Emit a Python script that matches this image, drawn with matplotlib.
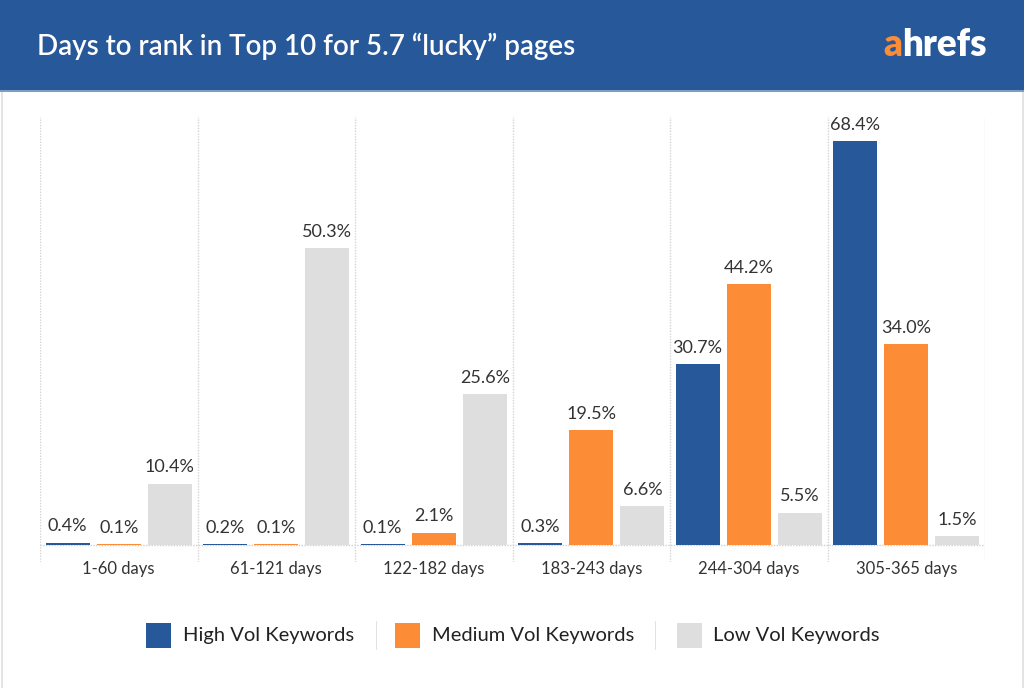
import numpy as np
import matplotlib.pyplot as plt
from matplotlib.patches import Rectangle

# data
day_ranges = ["1-60 days", "61-121 days", "122-182 days",
              "183-243 days", "244-304 days", "305-365 days"]
high_vol = [0.4, 0.2, 0.1, 0.3, 30.7, 68.4]
medium_vol = [0.1, 0.1, 2.1, 19.5, 44.2, 34.0]
low_vol = [10.4, 50.3, 25.6, 6.6, 5.5, 1.5]
series_names = ["High Vol Keywords", "Medium Vol Keywords", "Low Vol Keywords"]

BLUE = "#27589a"
ORANGE = "#fd8c36"
GREY = "#dedede"
TEXT = "#333333"
FONT = "Lato"

W, H = 1024, 688
fig = plt.figure(figsize=(W / 100, H / 100), dpi=100)
fig.patch.set_facecolor("white")

# header band
fig.patches.append(Rectangle((0, 1 - 90 / H), 1, 90 / H, transform=fig.transFigure,
                             facecolor=BLUE, edgecolor="none", zorder=0))
fig.patches.append(Rectangle((0, 1 - 92 / H), 1, 2 / H, transform=fig.transFigure,
                             facecolor="#7f9cc4", edgecolor="none", zorder=0))
# thin frame left / right
for xpx in (1, 1022):
    fig.patches.append(Rectangle((xpx / W, 0), 1.5 / W, 1 - 92 / H, transform=fig.transFigure,
                                 facecolor="#e4e4e4", edgecolor="none", zorder=0))

fig.text(37 / W, 1 - 46 / H, "Days to rank in Top 10 for 5.7 \u201clucky\u201d pages",
         color="white", fontsize=20, fontweight="semibold", family=FONT,
         ha="left", va="center")
logo_y = 1 - 45 / H
t = fig.text(883 / W, logo_y, "a", color=ORANGE, fontsize=26.5, fontweight="heavy",
             family=FONT, ha="left", va="center")
fig.canvas.draw()
bb = t.get_window_extent()
fig.text(bb.x1 / W, logo_y, "hrefs", color="white", fontsize=26.5, fontweight="heavy",
         family=FONT, ha="left", va="center")

# plot area: x from 40 to 985 px, y from 117 to 562 px
ax = fig.add_axes([40 / W, 1 - 562 / H, (985 - 40) / W, (562 - 117) / H])
ax.set_xlim(-0.5, 5.5)
scale = 5.9  # px per percent
ax.set_ylim(-(562 - 545) / scale, (545 - 117) / scale)
ax.axis("off")

x = np.arange(len(day_ranges))
offsets = [-0.325, 0.0, 0.325]
bw = 0.28
for vals, off, col in zip([high_vol, medium_vol, low_vol], offsets, [BLUE, ORANGE, GREY]):
    ax.bar(x + off, vals, width=bw, color=col, zorder=3)
    for xi, v in zip(x, vals):
        ax.text(xi + off, v + 1.4, f"{v:.1f}%", ha="center", va="bottom",
                fontsize=13, color=TEXT, family=FONT, zorder=4)

# dotted grid
for gx in np.arange(-0.5, 6.0, 1.0):
    ax.axvline(gx, color="#d4d4d4", lw=1, ls=(0, (1, 1)), zorder=1)
ax.axhline(0, color="#cfcfcf", lw=1, ls=(0, (1, 1)), zorder=2)

for xi, lab in zip(x, day_ranges):
    ax.text(xi, -(561 - 545) / scale, lab, ha="center", va="top",
            fontsize=12, color=TEXT, family=FONT, clip_on=False)

# legend
leg_y = 1 - 635 / H
sq = 25
legend_items = [(146, 183, BLUE), (395, 432, ORANGE), (677, 713, GREY)]
for (sx, tx, col), name in zip(legend_items, series_names):
    fig.patches.append(Rectangle((sx / W, leg_y - sq / 2 / H), sq / W, sq / H,
                                 transform=fig.transFigure, facecolor=col, edgecolor="none"))
    fig.text(tx / W, leg_y, name, ha="left", va="center", fontsize=14.5,
             color="#222222", family=FONT)
for sep in (376, 655):
    fig.patches.append(Rectangle((sep / W, 1 - 650 / H), 1 / W, 29 / H,
                                 transform=fig.transFigure, facecolor="#e2e2e2", edgecolor="none"))

fig.savefig("out.png", dpi=100, facecolor="white")
